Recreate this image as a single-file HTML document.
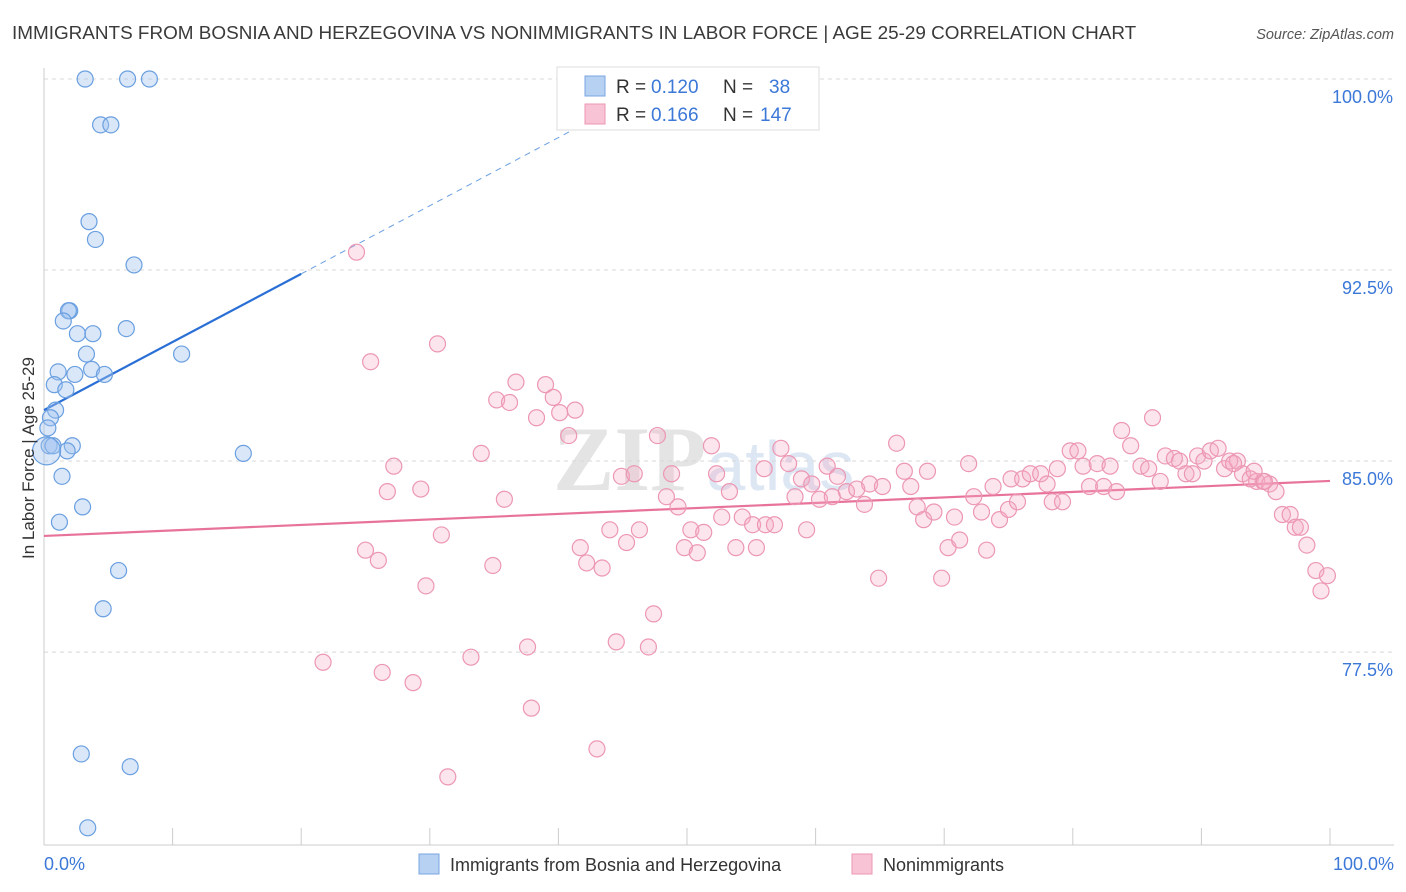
<!DOCTYPE html>
<html><head><meta charset="utf-8"><style>
body{margin:0;background:#fff;font-family:"Liberation Sans",sans-serif;}
#wrap{position:relative;width:1406px;height:892px;overflow:hidden;}
</style></head><body>
<div id="wrap">
<svg id="svg" width="1406" height="892" xmlns="http://www.w3.org/2000/svg">
<text x="12" y="39" font-size="18.9" fill="#3a3a3a">IMMIGRANTS FROM BOSNIA AND HERZEGOVINA VS NONIMMIGRANTS IN LABOR FORCE | AGE 25-29 CORRELATION CHART</text>
<text x="1394" y="39" font-size="14.5" fill="#555" font-style="italic" text-anchor="end">Source: ZipAtlas.com</text>
<text x="553" y="490" font-size="92" fill="#e4e4e4" font-family="Liberation Serif,serif" font-weight="bold">ZIP<tspan fill="#dde6f3" font-family="Liberation Sans,sans-serif" font-weight="normal" font-size="70">atlas</tspan></text>
<g id="grid"></g><g id="axes"></g><g id="lines"></g><g id="pts"></g>
<text x="34" y="458" font-size="17" fill="#333" text-anchor="middle" transform="rotate(-90 34 458)">In Labor Force | Age 25-29</text>
<g>
<rect x="557" y="67" width="262" height="63" fill="#fff" stroke="#ddd"/>
<rect x="585" y="76" width="20" height="20" fill="#b7d1f3" stroke="#7aa6e0"/>
<rect x="585" y="104" width="20" height="20" fill="#f8c3d4" stroke="#ec97b3"/>
<text x="616" y="93" font-size="19" fill="#333">R =</text>
<text x="651" y="93" font-size="19" fill="#3b78d8">0.120</text>
<text x="723" y="93" font-size="19" fill="#333">N =</text>
<text x="769" y="93" font-size="19" fill="#3b78d8">38</text>
<text x="616" y="121" font-size="19" fill="#333">R =</text>
<text x="651" y="121" font-size="19" fill="#3b78d8">0.166</text>
<text x="723" y="121" font-size="19" fill="#333">N =</text>
<text x="760" y="121" font-size="19" fill="#3b78d8">147</text>
</g>
<g>
<rect x="419" y="854" width="20" height="20" fill="#b7d1f3" stroke="#7aa6e0"/>
<text x="450" y="871" font-size="18" fill="#333">Immigrants from Bosnia and Herzegovina</text>
<rect x="852" y="854" width="20" height="20" fill="#f8c3d4" stroke="#ec97b3"/>
<text x="883" y="871" font-size="18" fill="#333">Nonimmigrants</text>
</g>
</svg></div>
<script>
const yTicks=[100,92.5,85,77.5];
const yTickLabels=["100.0%","92.5%","85.0%","77.5%"];
const xTickLabels=["0.0%","100.0%"];
const blueX=[3.2,6.5,8.2,4.4,5.2,3.5,4.0,7.0,2.0,1.9,1.5,2.6,3.8,6.4,3.3,10.7,1.1,2.4,3.7,4.7,0.8,1.7,0.9,0.5,0.3,0.4,0.7,2.2,1.8,15.5,1.4,3.0,1.2,5.8,4.6,2.9,6.7,3.4];
const blueY=[100,100,100,98.2,98.2,94.4,93.7,92.7,90.9,90.9,90.5,90.0,90.0,90.2,89.2,89.2,88.5,88.4,88.6,88.4,88.0,87.8,87.0,86.7,86.3,85.6,85.6,85.6,85.4,85.3,84.4,83.2,82.6,80.7,79.2,73.5,73.0,70.6];
const pinkX=[24.3,25.4,30.6,36.7,39.0,35.2,36.2,39.6,40.1,41.3,38.3,40.8,47.7,51.9,34.0,27.2,26.7,29.3,35.8,30.9,25.0,26.0,34.9,29.7,41.7,42.2,43.4,44.0,45.3,46.3,44.9,45.9,48.8,48.4,49.3,50.3,51.3,49.8,50.8,52.3,53.3,52.7,54.3,55.1,56.1,56.8,53.8,55.4,57.3,57.9,56.0,58.9,58.4,59.7,60.3,61.3,60.9,61.7,62.4,63.2,63.8,64.2,65.2,66.3,66.9,67.4,67.9,68.4,68.7,69.2,59.3,64.9,69.8,70.3,71.2,70.8,71.9,72.3,72.9,73.8,74.3,75.0,75.7,73.3,75.2,76.1,76.7,77.5,78.0,78.4,79.2,79.8,80.4,78.8,80.8,81.3,81.9,82.4,82.9,83.4,83.8,84.5,85.3,85.9,86.2,86.8,87.2,87.9,88.3,88.8,89.3,89.7,90.2,90.7,91.3,91.8,92.2,92.8,93.2,93.8,94.3,94.8,95.3,95.8,96.3,96.9,97.3,97.7,98.2,98.9,99.8,99.3,92.5,94.9,94.1,21.7,26.3,28.7,33.2,37.6,37.9,44.5,47.0,47.4,43.0,31.4];
const pinkY=[93.2,88.9,89.6,88.1,88.0,87.4,87.3,87.5,86.9,87.0,86.7,86.0,86.0,85.6,85.3,84.8,83.8,83.9,83.5,82.1,81.5,81.1,80.9,80.1,81.6,81.0,80.8,82.3,81.8,82.3,84.4,84.5,84.5,83.6,83.2,82.3,82.2,81.6,81.4,84.5,83.8,82.8,82.8,82.5,82.5,82.5,81.6,81.6,85.5,84.9,84.7,84.3,83.6,84.1,83.5,83.6,84.8,84.4,83.8,83.9,83.3,84.1,84.0,85.7,84.6,84.0,83.2,82.7,84.6,83.0,82.3,80.4,80.4,81.6,81.9,82.8,84.9,83.6,83.0,84.0,82.7,83.1,83.4,81.5,84.3,84.3,84.5,84.5,84.1,83.4,83.4,85.4,85.4,84.7,84.8,84.0,84.9,84.0,84.8,83.8,86.2,85.6,84.8,84.7,86.7,84.2,85.2,85.1,85.0,84.5,84.5,85.2,85.0,85.4,85.5,84.7,85.0,85.0,84.5,84.3,84.2,84.2,84.1,83.8,82.9,82.9,82.4,82.4,81.7,80.7,80.5,79.9,84.9,84.2,84.6,77.1,76.7,76.3,77.3,77.7,75.3,77.9,77.7,79.0,73.7,72.6];
const blueTrend=[87.0,92.35];
const pinkTrend=[82.06,84.22];
const NS="http://www.w3.org/2000/svg";
const X=v=>44+v*12.86, Y=v=>79+(100-v)*25.47;
function mk(tag,attrs,parent){const e=document.createElementNS(NS,tag);for(const k in attrs)e.setAttribute(k,attrs[k]);document.getElementById(parent).appendChild(e);return e;}
yTicks.forEach((t,i)=>{
 const g=mk('line',{x1:44,x2:1394,y1:Y(t),y2:Y(t),stroke:'#d8d8d8','stroke-dasharray':'4,4'},'grid');
 
 
 const l=mk('text',{x:1393,y:Y(t)+24,'font-size':18,fill:'#3b78d8','text-anchor':'end'},'axes');
 l.textContent=yTickLabels[i];
 
 
});
const ya=mk('line',{x1:44,x2:44,y1:68,y2:845,stroke:'#ccc'},'axes');


const xa=mk('line',{x1:44,x2:1394,y1:845,y2:845,stroke:'#ccc'},'axes');


for(let k=0;k<=10;k++){const t=mk('line',{x1:X(k*10),x2:X(k*10),y1:828,y2:845,stroke:'#ccc'},'axes');
 
 }
[[0,'start',44],[100,'end',1394]].forEach((d,i)=>{const l=mk('text',{x:d[2],y:870,'font-size':18,fill:'#3b78d8','text-anchor':d[1]},'axes');l.textContent=xTickLabels[i];
 
 });
const slope=(blueTrend[1]-blueTrend[0])/20;
const b1=mk('line',{x1:X(0),y1:Y(blueTrend[0]),x2:X(20),y2:Y(blueTrend[1]),stroke:'#2a6fd6','stroke-width':2.2},'lines');


const b2=mk('line',{x1:X(20),y1:Y(blueTrend[1]),x2:X(44),y2:Y(blueTrend[0]+slope*44),stroke:'#6a9fe0','stroke-width':1,'stroke-dasharray':'6,5'},'lines');


const p1=mk('line',{x1:X(0),y1:Y(pinkTrend[0]),x2:X(100),y2:Y(pinkTrend[1]),stroke:'#e8739a','stroke-width':2.2},'lines');


pinkX.forEach((v,i)=>{const c=mk('circle',{cx:X(v),cy:Y(pinkY[i]),r:8,fill:'rgba(244,170,196,0.3)',stroke:'#ec97b3','stroke-width':1.2},'pts');
 
 });
blueX.forEach((v,i)=>{const c=mk('circle',{cx:X(v),cy:Y(blueY[i]),r:8,fill:'rgba(160,195,240,0.4)',stroke:'#6a9fe0','stroke-width':1.2},'pts');
 
 });
const big=mk('circle',{cx:X(0.2),cy:Y(85.4),r:14,fill:'rgba(160,195,240,0.4)',stroke:'#6a9fe0','stroke-width':1.2},'pts');


</script>
</body></html>
